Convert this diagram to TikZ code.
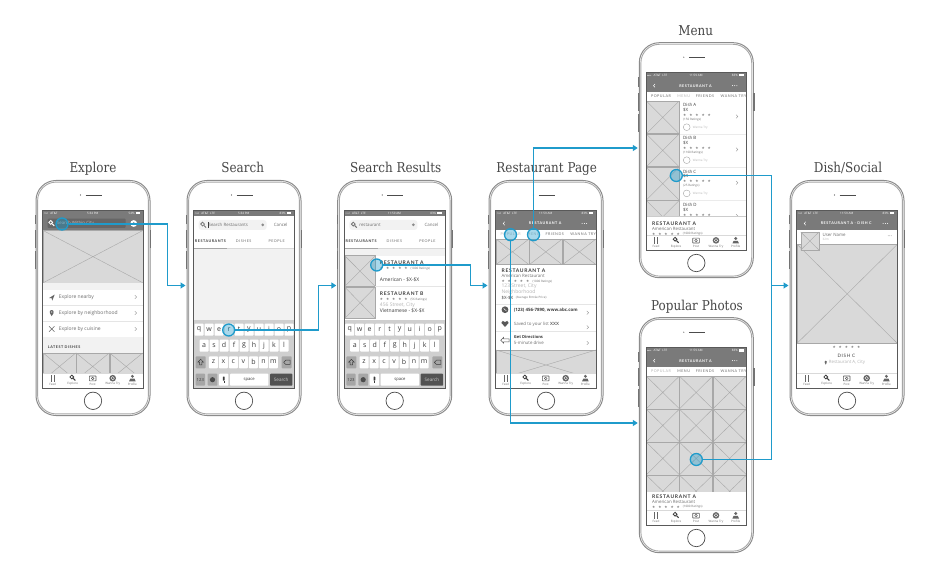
\documentclass[tikz,border=0pt]{standalone}
\usepackage{fontspec}
\usepackage{graphicx}
\setmainfont{Open Sans}
\newfontfamily\titlefont{DejaVu Serif}
\newfontfamily\capfont[LetterSpace=14]{Lato}
\newfontfamily\symfont{DejaVu Sans}
\usetikzlibrary{arrows.meta}
\definecolor{flowblue}{HTML}{1F9BCB}
\definecolor{hdr}{HTML}{7A7A7A}
\definecolor{hdrdark}{HTML}{666666}
\definecolor{ph}{HTML}{D9D9D9}
\definecolor{phline}{HTML}{A8A8A8}
\definecolor{pale}{HTML}{F2F2F2}
\definecolor{ink}{HTML}{3C3C3C}
\definecolor{mid}{HTML}{6E6E6E}
\definecolor{faint}{HTML}{B5B5B5}
\definecolor{kbd}{HTML}{CFCFCF}
\definecolor{kbdk}{HTML}{A6A6A6}
\tikzset{
  phonebody/.style={draw=black!45,line width=1pt,rounded corners=20pt,minimum width=114pt,minimum height=235pt,inner sep=0pt,fill=white},
  phoneinner/.style={draw=black!35,line width=.9pt,rounded corners=18.5pt},
  screenframe/.style={draw=black!65,line width=.8pt},
  sidebtn/.style={fill=black!55},
  homebtn/.style={circle,draw=black!70,line width=.7pt,minimum size=17.4pt,inner sep=0pt},
  ttl/.style={font=\titlefont\fontsize{13.6}{15}\selectfont,text=black!72,inner sep=0pt,anchor=base},
  ui/.style={inner sep=0pt,anchor=west,text=mid,font=\fontsize{5}{6}\selectfont},
  tinytext/.style={font=\fontsize{3}{3.5}\selectfont,text=faint},
  minitext/.style={font=\fontsize{4.4}{5}\selectfont},
  captext/.style={font=\capfont\bfseries\fontsize{5}{6}\selectfont,text=ink},
  capsm/.style={font=\capfont\fontsize{3.7}{4}\selectfont},
  hot/.style={circle,draw=flowblue,line width=1.3pt,fill=flowblue,fill opacity=.38,minimum size=12pt,inner sep=0pt},
  flow/.style={draw=flowblue,line width=1.4pt},
  flowtip/.style={flow,-{Triangle[length=5pt,width=6pt]}},
  phx/.style={fill=ph,draw=phline,line width=.4pt},
}
\newcounter{tn}
\newcommand{\ttlbox}[1]{\scalebox{.88}[1]{#1}}
\newcommand{\tx}[4][]{\stepcounter{tn}\node[ui,#1] (t\arabic{tn}) at (#2,#3) {#4};}
\newcommand{\xbox}[4]{\path[phx] (#1,#2) rectangle (#3,#4);\draw[phline,line width=.4pt] (#1,#2)--(#3,#4) (#1,#4)--(#3,#2);}
\newcommand{\stars}[3][]{\tx[#1,font=\symfont\fontsize{3.6}{4}\selectfont,text=black!50]{#2}{#3}{★\kern2.9pt★\kern2.9pt★\kern2.9pt★\kern2.9pt★}}
\newcommand{\chev}[2]{\draw[black!45,line width=.4pt] (#1-.9,#2-1.8)--(#1+.9,#2)--(#1-.9,#2+1.8);}
\newcommand{\lensicon}[3]{\begin{scope}[shift={(#1,#2)}]\draw[#3,line width=.8pt] (-.6,-.6) circle (1.9);\draw[#3,line width=1pt] (.8,.8)--(2.9,2.9);\end{scope}}
\newcommand{\statusline}[3]{%
  \fill[hdr] (0,0) rectangle (101,6.5);
  \foreach \k in {1.5,2.6,3.7,4.8}{\fill[white] (\k,3.1) circle (.4);}
  \tx[tinytext,text=white]{7.5}{3.2}{#1}
  \tx[tinytext,text=white,anchor=center]{50}{3.2}{#2}
  \tx[tinytext,text=white,anchor=east]{92}{3.2}{#3}
  \fill[white] (92.8,2.1) rectangle (97.5,4.3);}
\newcommand{\tabbar}{%
  \fill[white] (0,163) rectangle (101,178);
  \draw[black!15,line width=.3pt] (0,163)--(101,163);
  \draw[black!60,line width=.6pt] (8.6,165)--(8.6,171.5) (11.2,165)--(11.2,171.5);
  \lensicon{29.7}{167.6}{ink}
  \draw[black!65,line width=.6pt,rounded corners=.4] (46.7,166) rectangle (53.3,170.8);
  \draw[black!65,line width=.5pt] (50,168.4) circle (1.3);
  \fill[black!60] (70,168.2) circle (3.3);\draw[white,line width=.3pt] (70,168.2) circle (1.7);
  \fill[black!60] (89.7,166.3) circle (1.6);\fill[black!60] (86.4,171.3) -- (87.6,168.7) -- (91.8,168.7) -- (93,171.3) -- cycle;
  \tx[tinytext,anchor=center,text=mid]{10}{174.2}{Feed}
  \tx[tinytext,anchor=center,text=mid]{30}{174.2}{Explore}
  \tx[tinytext,anchor=center,text=mid]{50}{174.2}{Post}
  \tx[tinytext,anchor=center,text=mid]{70}{174.2}{Wanna Try}
  \tx[tinytext,anchor=center,text=mid]{89.7}{174.2}{Profile}}
\newcommand{\kbkey}[3]{\fill[white,rounded corners=.8] (#1-4.5,#2) rectangle (#1+4.5,#2+12);
  \tx[anchor=center,text=ink,font=\fontsize{7}{8}\selectfont]{#1}{#2+5.6}{#3}}
\newcommand{\keyboard}{%
  \fill[kbd] (0,110) rectangle (101,178);
  \foreach \c [count=\i from 0] in {q,w,e,r,t,y,u,i,o,p}{\kbkey{5.3+10*\i}{113.7}{\c}}
  \foreach \c [count=\i from 0] in {a,s,d,f,g,h,j,k,l}{\kbkey{10.3+10*\i}{129.7}{\c}}
  \foreach \c [count=\i from 0] in {z,x,c,v,b,n,m}{\kbkey{19.7+10*\i}{146.3}{\c}}
  \fill[kbdk,rounded corners=.8] (2,146.3) rectangle (12,158.3);
  \draw[ink,line width=.5pt] (7,149.3)--(9.8,152.2)--(8.2,152.2)--(8.2,154.8)--(5.8,154.8)--(5.8,152.2)--(4.2,152.2)--cycle;
  \fill[kbdk,rounded corners=.8] (88,146.3) rectangle (98,158.3);
  \draw[ink,line width=.5pt] (90,152.3)--(92,150.2)--(96.5,150.2)--(96.5,154.4)--(92,154.4)--cycle;
  \fill[kbdk,rounded corners=.8] (2,163.7) rectangle (11.3,175.7);
  \tx[anchor=center,text=ink,font=\fontsize{4.2}{5}\selectfont]{6.6}{169.7}{123}
  \fill[kbdk,rounded corners=.8] (14,163.7) rectangle (23.7,175.7);
  \fill[black!70] (18.8,169.7) circle (2.6);
  \fill[white,rounded corners=.8] (25.3,163.7) rectangle (34.7,175.7);
  \fill[ink,rounded corners=.6] (29.1,166.5) rectangle (30.9,170.7);\draw[ink,line width=.4pt] (30,171.2)--(30,173);
  \fill[white,rounded corners=.8] (36.3,163.7) rectangle (74.7,175.7);
  \tx[anchor=center,text=ink,font=\fontsize{4.2}{5}\selectfont]{55.5}{169.7}{space}
  \fill[black!68,rounded corners=.8] (76.3,163.7) rectangle (98.7,175.7);
  \tx[anchor=center,text=white!80!black,font=\fontsize{4.6}{5}\selectfont]{87.5}{169.7}{Search}}
\newcommand{\searchtop}[2]{%
  \statusline{AT\&T\ \ LTE}{#2}{83\%}
  \fill[pale,rounded corners=3] (5,10) rectangle (73,20);
  \lensicon{9.5}{14.7}{black!55}
  \tx[minitext,text=mid]{14.7}{14.7}{#1}
  \fill[black!45] (69,14.8) circle (1.5);
  \tx[minitext,anchor=center,text=mid]{87}{15}{Cancel}
  \tx[capsm,anchor=center,text=ink]{17}{30.7}{\textbf{RESTAURANTS}}
  \tx[capsm,anchor=center,text=mid]{50}{30.7}{DISHES}
  \tx[capsm,anchor=center,text=mid]{83}{30.7}{PEOPLE}
  \draw[black!15,line width=.4pt] (0,38.7)--(101,38.7);
  \draw[black!35,line width=.7pt] (0,38.7)--(33.4,38.7);}
\newcommand{\rhead}[1]{%
  \fill[hdr] (0,0) rectangle (101,20);
  \statusline{AT\&T\ \ LTE}{11:59 AM}{83\%}
  \draw[white,line width=.5pt] (9,11.8)--(7.5,13.5)--(9,15.2);
  \tx[capsm,anchor=center,text=white]{49.5}{13.5}{\bfseries #1}
  \foreach \k in {86.5,88.7,90.9}{\fill[white] (\k,13.5) circle (.5);}}
\newcommand{\rtabs}[2]{%
  \tx[capsm,anchor=center,text=#1]{15}{24.3}{POPULAR}
  \tx[capsm,anchor=center,text=#2]{37.7}{24.3}{MENU}
  \tx[capsm,anchor=center,text=mid]{59}{24.3}{FRIENDS}
  \tx[capsm,anchor=center,text=mid]{87.5}{24.3}{WANNA TRY}}
\newcommand{\dishrow}[4]{%
  \xbox{.5}{#1}{33}{#1+32.4}
  \tx[minitext,text=ink]{37}{#1+4}{#2}
  \tx[minitext,text=ink]{37}{#1+9}{\$X}
  \stars{37}{#1+14.2}
  \tx[tinytext,text=mid]{37}{#1+18.4}{#3}
  \draw[black!35,line width=.4pt] (40.7,#1+26) circle (3.4);
  \tx[tinytext]{46.7}{#1+26.2}{Wanna Try}
  \chev{91}{#1+15.3}
  \draw[black!8,line width=.3pt] (34,#1+32.8)--(101,#1+32.8);}
\newcommand{\phone}[4]{%
  \node[phonebody] (#1) at (#2+57,#3+117.5) {};
  \path[phoneinner] (#2+1.6,#3+1.6) rectangle (#2+112.4,#3+233.4);
  \fill[sidebtn] (#2-1.2,#3+34.5) rectangle (#2,#3+44);
  \fill[sidebtn] (#2-1.2,#3+50) rectangle (#2,#3+68);
  \fill[sidebtn] (#2-1.2,#3+71) rectangle (#2,#3+89);
  \fill[sidebtn] (#2+114,#3+50) rectangle (#2+115.2,#3+68);
  \fill[black!70] (#2+44.5,#3+14.5) circle (.6);
  \draw[black!70,line width=.7pt] (#2+49.5,#3+14.5)--(#2+65.5,#3+14.5);
  \node[homebtn] (#1home) at (#2+57,#3+220.3) {};
  \begin{scope}[shift={(#2+6.7,#3+29.5)}]
    \begin{scope}
      \clip (0,0) rectangle (100.5,178);
      \fill[white] (0,0) rectangle (100.5,178);
      #4
    \end{scope}
    \path[screenframe] (0,0) rectangle (100.5,178);
  \end{scope}}
\begin{document}
\begin{tikzpicture}[x=1pt,y=-1pt]
\useasboundingbox[fill=white] (0,0) rectangle (940,580);
% titles
\node[ttl] (tExplore) at (93,172.7) {\ttlbox{Explore}};
\node[ttl] (tSearch) at (242.7,172.7) {\ttlbox{Search}};
\node[ttl] (tResults) at (395.7,172.7) {\ttlbox{Search Results}};
\node[ttl] (tRest) at (546.7,172.7) {\ttlbox{Restaurant Page}};
\node[ttl] (tMenu) at (695.7,35.3) {\ttlbox{Menu}};
\node[ttl] (tPhotos) at (697,310.3) {\ttlbox{Popular Photos}};
\node[ttl] (tDish) at (848,172.7) {\ttlbox{Dish/Social}};
% Explore
\phone{pExplore}{36}{180.5}{%
  \fill[hdr] (0,0) rectangle (101,20);
  \statusline{AT\&T}{5:34 PM}{54\%}
  \fill[hdrdark,rounded corners=1] (5,8.7) rectangle (83,18);
  \lensicon{8.6}{13}{white}
  \tx[minitext,text=black!25]{14}{13.3}{Search Within City}
  \fill[white] (91,13.5) circle (3.4);\fill[hdr] (91,13.5) circle (1.4);
  \xbox{0}{20.3}{100.5}{73}
  \fill[pale] (0,73) rectangle (101,80);
  \tx[text=mid]{16}{87.3}{Explore nearby}
  \tx[text=mid]{16}{103.2}{Explore by neighborhood}
  \tx[text=mid]{16}{119}{Explore by cuisine}
  \fill[black!60] (6.5,88) -- (12,84.5) -- (9.6,90.5) -- (8.9,88.2) -- cycle;
  \fill[black!60] (9,102) circle (2);\fill[black!60] (7.2,103) -- (10.8,103) -- (9,106.2) -- cycle;\fill[white] (9,102) circle (.7);
  \draw[black!60,line width=.6pt] (6.3,116.3)--(11.7,121.7) (11.7,116.3)--(6.3,121.7);
  \chev{93}{87}\chev{93}{103}\chev{93}{119}
  \draw[black!10,line width=.3pt] (0,95.3)--(101,95.3) (0,111.3)--(101,111.3);
  \fill[pale] (0,127) rectangle (101,143);
  \tx[capsm,text=ink]{5}{137.2}{\bfseries LATEST DISHES}
  \xbox{.5}{143}{33}{170}\xbox{33.5}{143}{66.5}{170}\xbox{67}{143}{100}{170}
  \tabbar}
% Search
\phone{pSearch}{187}{180.5}{%
  \searchtop{Search Restaurants}{5:34 PM}
  \draw[ink,line width=.3pt] (14.2,11.8)--(14.2,17.6);
  \fill[pale] (0,39) rectangle (101,110);
  \keyboard}
% Results
\phone{pResults}{337.7}{180.5}{%
  \searchtop{restaurant}{11:59 AM}
  \fill[pale] (0,39.4) rectangle (101,46);
  \xbox{.3}{45.7}{31}{76.5}\xbox{.3}{77}{31}{108.5}
  \tx[captext]{35.3}{52.3}{RESTAURANT A}
  \stars{35.3}{58}\tx[tinytext,text=mid]{66}{58.3}{(1000 Ratings)}
  \tx[text=ink]{35.3}{69.3}{American - \$X-\$X}
  \draw[black!10,line width=.3pt] (31,76.6)--(101,76.6);
  \tx[captext]{35.3}{84}{RESTAURANT B}
  \stars{35.3}{89.7}\tx[tinytext,text=mid]{66}{90}{(56 Ratings)}
  \tx[text=faint]{35.3}{95}{456 Street, City}
  \tx[text=ink]{35.3}{101}{Vietnamese - \$X-\$X}
  \keyboard}
% Restaurant
\phone{pRest}{489}{180.5}{%
  \rhead{RESTAURANT A}
  \rtabs{faint}{faint}
  \xbox{.3}{29}{33.3}{54.7}\xbox{33.6}{29}{66.6}{54.7}\xbox{67}{29}{100.3}{54.7}
  \tx[captext]{5.7}{60.3}{RESTAURANT A}
  \tx[minitext]{5.7}{66}{American Restaurant}
  \stars{5.7}{71.3}\tx[tinytext,text=mid]{36.7}{71.5}{(1000 Ratings)}
  \tx[text=faint]{5.7}{76.7}{123 Street, City}
  \tx[text=faint]{5.7}{82.3}{Neighborhood}
  \tx[minitext,text=ink]{5.7}{87.7}{\$X-\$X}\tx[tinytext,text=mid]{20}{87.8}{(Average Entrée Price)}
  \draw[black!10,line width=.3pt] (0,93.7)--(101,93.7) (0,121.5)--(101,121.5);
  \fill[black!65] (9.3,99.7) circle (3.4);\draw[white,line width=.5pt] (8,98.4) -- (10.7,101);
  \tx[minitext,text=ink,font=\bfseries\fontsize{4.4}{5}\selectfont]{18}{100}{(123) 456-7890, www.abc.com}
  \chev{92}{102.7}
  \fill[black!65] (9.3,116.8) -- (5.6,113) .. controls (5.3,110.5) and (8.5,110.3) .. (9.3,112) .. controls (10.1,110.3) and (13.3,110.5) .. (13,113) -- cycle;
  \tx[minitext]{18}{114}{Saved to your list \textbf{XXX}}
  \chev{92}{117.3}
  \draw[black!65,line width=.5pt] (5,130.3)--(8,127.3)--(8,128.8)--(13.5,128.8)--(13.5,131.8)--(8,131.8)--(8,133.3)--cycle;
  \tx[minitext,text=ink,font=\bfseries\fontsize{4.1}{5}\selectfont]{18}{127.3}{Get Directions}
  \tx[minitext]{18}{133}{5-minute drive}
  \chev{92}{133}
  \xbox{.3}{140}{100.3}{170}
  \tabbar}
% Menu
\phone{pMenu}{639.3}{42.7}{%
  \rhead{RESTAURANT A}
  \rtabs{mid}{faint}
  \dishrow{29}{Dish A}{(150 Ratings)}{}
  \dishrow{62}{Dish B}{(1100 Ratings)}{}
  \dishrow{95.2}{Dish C}{(25 Ratings)}{}
  \dishrow{128.5}{Dish D}{(5 Ratings)}{}
  \fill[white] (0,144) rectangle (101,163);
  \draw[black!20,line width=.3pt] (0,144)--(101,144);
  \tx[captext]{6}{151}{RESTAURANT A}
  \tx[minitext]{6}{157}{American Restaurant}
  \stars{6}{162.3}\tx[tinytext,text=mid]{36.7}{162}{(1000 Ratings)}
  \tabbar}
% Popular photos
\phone{pPhotos}{639.3}{317.7}{%
  \rhead{RESTAURANT A}
  \rtabs{faint}{mid}
  \foreach \a/\b in {.3/33.3,33.6/66.6,67/100.3}{%
    \foreach \c/\d in {29/61.5,62/94.5,95/127.5,128/160}{\xbox{\a}{\c}{\b}{\d}}}
  \fill[white] (0,144.5) rectangle (101,163);
  \tx[captext]{6}{149}{RESTAURANT A}
  \tx[minitext]{6}{154.7}{American Restaurant}
  \stars{6}{160}\tx[tinytext,text=mid]{36.7}{160}{(1000 Ratings)}
  \tabbar}
% Dish
\phone{pDish}{790}{180.5}{%
  \rhead{RESTAURANT A - DISH C}
  \xbox{.7}{34.7}{100.3}{133}
  \xbox{4}{22}{22.3}{40}
  \tx[minitext]{25.7}{25}{User Name}
  \tx[tinytext]{25.7}{29.3}{32m}
  \foreach \k in {91.5,93,94.5}{\fill[black!45] (\k,25.7) circle (.35);}
  \stars[anchor=center]{49.7}{137.7}
  \tx[captext,anchor=center,font=\capfont\fontsize{4.6}{5}\selectfont]{49.7}{145.4}{DISH C}
  \fill[black!60] (29,151.8) circle (1.2);\fill[black!60] (27.9,152.4) -- (30.1,152.4) -- (29,154.6) -- cycle;
  \tx[minitext,text=faint]{32}{152.4}{Restaurant A, City}
  \tabbar}
% hotspots
\node[hot] (hExplore) at (62,224) {};
\node[hot] (hSearch) at (228.7,330) {};
\node[hot] (hResults) at (376.7,265) {};
\node[hot] (hPop) at (510.5,234.7) {};
\node[hot] (hTabMenu) at (533.5,234.7) {};
\node[hot] (hMenu) at (676.3,175.5) {};
\node[hot] (hPhotos) at (696.3,459.5) {};
% connector ends
\coordinate (w1) at (167.5,285.5);\coordinate (e1) at (185.5,285.5);
\coordinate (w2) at (318.5,285.5);\coordinate (e2) at (336.3,285.5);
\coordinate (w3) at (470.5,285.5);\coordinate (e3) at (487.5,285.5);
\coordinate (e4) at (637.8,148);
\coordinate (e5) at (637.8,423);
\coordinate (w6) at (771.5,285.5);\coordinate (e6) at (788.5,285.5);
\draw[flowtip] (hExplore.east) -| (w1) -- (e1);
\draw[flowtip] (hSearch.east) -| (w2) -- (e2);
\draw[flowtip] (hResults.east) -| (w3) -- (e3);
\draw[flowtip] (hTabMenu.north) |- (e4);
\draw[flowtip] (hPop.south) |- (e5);
\draw[flow] (hMenu.east) -| (w6);
\draw[flowtip] (hPhotos.east) -| (w6) -- (e6);
\end{tikzpicture}
\end{document}
